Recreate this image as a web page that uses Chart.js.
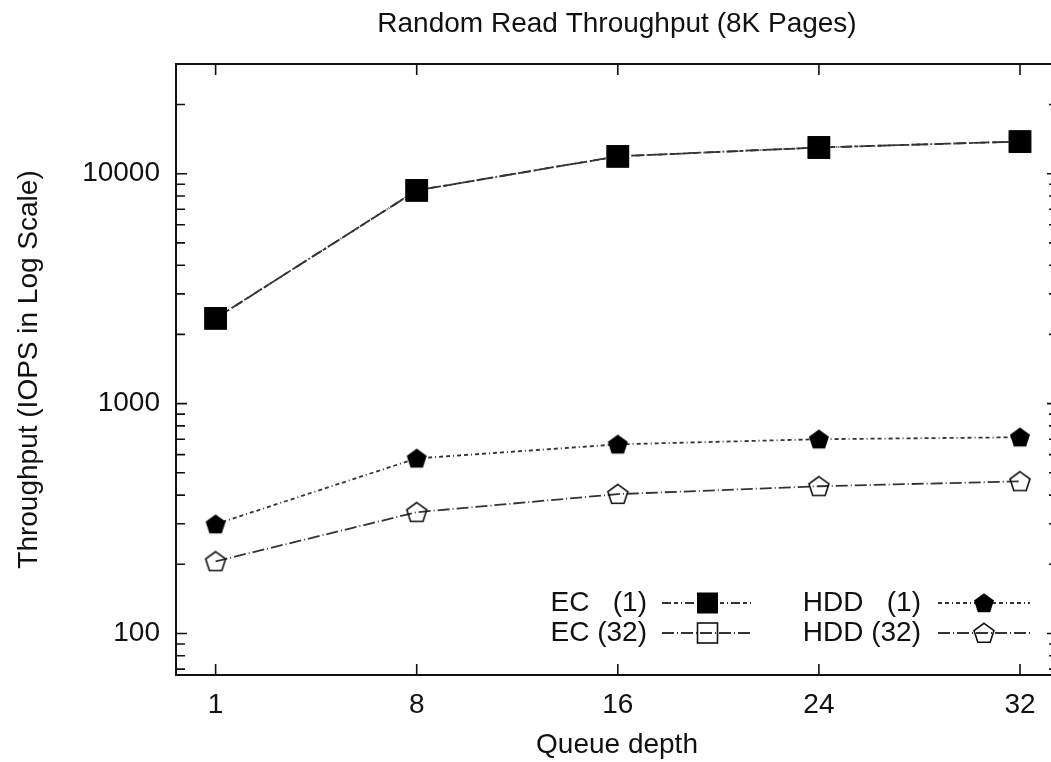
<!DOCTYPE html>
<html>
<head>
<meta charset="utf-8">
<title>Random Read Throughput (8K Pages)</title>
<script src="https://cdn.jsdelivr.net/npm/chart.js@4.4.1/dist/chart.umd.min.js"></script>
<style>
  html, body { margin: 0; padding: 0; background: #fff; overflow: hidden; }
  #wrap { width: 1051px; height: 762px; overflow: hidden; }
  canvas { display: block; }
</style>
</head>
<body>
<div id="wrap"><canvas id="lineChart" width="1070" height="762"></canvas></div>
<script>
// values
var queueDepths = ['1', '8', '16', '24', '32'];
var ecOne = [2350, 8460, 11900, 13000, 13800];
var ecThirtyTwo = [2350, 8460, 11900, 13000, 13800];
var hddOne = [299, 578, 665, 700, 714];
var hddThirtyTwo = [206, 337, 404, 437, 459];
var yTickValues = [100, 1000, 10000];

var FONT = "'Liberation Sans', Arial, sans-serif";
var FSIZE = 28;
var INK = '#111';

// pentagon markers as small canvases
function makePentagon(filled) {
    var c = document.createElement('canvas');
    c.width = 24;
    c.height = 24;
    var g = c.getContext('2d');
    g.beginPath();
    for (var i = 0; i < 5; i++) {
        var a = -Math.PI / 2 + i * 2 * Math.PI / 5;
        var px = 12 + 10.5 * Math.cos(a), py = 12.8 + 10.5 * Math.sin(a);
        if (i === 0) g.moveTo(px, py); else g.lineTo(px, py);
    }
    g.closePath();
    if (filled) {
        g.fillStyle = '#000';
        g.fill();
    } else {
        g.lineWidth = 1.6;
        g.strokeStyle = INK;
        g.stroke();
    }
    return c;
}

function toPoints(arr) {
    return arr.map(function (v, i) { return { x: i, y: v }; });
}

// gnuplot-style frame with inward ticks on all sides
var framePlugin = {
    id: 'frame',
    beforeDatasetsDraw: function (chart) {
        var ctx = chart.ctx, a = chart.chartArea;
        var xs = chart.scales.x, ys = chart.scales.y;
        ctx.save();
        ctx.strokeStyle = INK;
        ctx.lineWidth = 2;
        ctx.strokeRect(a.left, a.top, a.right - a.left, a.bottom - a.top);
        ctx.lineWidth = 1.6;
        ctx.beginPath();
        queueDepths.forEach(function (q, i) {
            var px = xs.getPixelForValue(i);
            ctx.moveTo(px, a.bottom); ctx.lineTo(px, a.bottom - 11);
            ctx.moveTo(px, a.top); ctx.lineTo(px, a.top + 11);
        });
        for (var d = 10; d <= 10000; d *= 10) {
            for (var m = 1; m <= 9; m++) {
                var v = m * d;
                if (v < ys.min || v > ys.max) continue;
                var py = ys.getPixelForValue(v);
                var len = m === 1 ? 11 : 9;
                ctx.moveTo(a.left, py); ctx.lineTo(a.left + len, py);
                ctx.moveTo(a.right, py); ctx.lineTo(a.right - len, py);
            }
        }
        ctx.stroke();
        ctx.restore();
    }
};

// key drawn like gnuplot: right-justified text, then a line sample with the marker
var keyPlugin = {
    id: 'gnuKey',
    afterDatasetsDraw: function (chart) {
        var ctx = chart.ctx;
        var spots = [
            { tx: 647, x0: 662, x1: 753, y: 603 },
            { tx: 647, x0: 662, x1: 753, y: 633 },
            { tx: 921, x0: 938, x1: 1030, y: 603 },
            { tx: 921, x0: 938, x1: 1030, y: 633 }
        ];
        chart.data.datasets.forEach(function (ds, i) {
            var s = spots[i];
            ctx.save();
            ctx.fillStyle = INK;
            ctx.font = FSIZE + 'px ' + FONT;
            ctx.textAlign = 'right';
            ctx.textBaseline = 'middle';
            ctx.fillText(ds.label, s.tx, s.y);
            ctx.strokeStyle = ds.borderColor;
            ctx.lineWidth = ds.borderWidth;
            ctx.setLineDash(ds.borderDash);
            ctx.beginPath();
            ctx.moveTo(s.x0, s.y);
            ctx.lineTo(s.x1, s.y);
            ctx.stroke();
            ctx.setLineDash([]);
            var mx = (s.x0 + s.x1) / 2;
            if (ds.pointStyle === 'rect') {
                var side = 20;
                if (ds.pointBackgroundColor !== 'rgba(0,0,0,0)') {
                    ctx.fillStyle = ds.pointBackgroundColor;
                    ctx.fillRect(mx - side / 2, s.y - side / 2, side, side);
                }
                ctx.strokeStyle = ds.pointBorderColor;
                ctx.lineWidth = ds.pointBorderWidth;
                ctx.strokeRect(mx - side / 2, s.y - side / 2, side, side);
            } else {
                var img = ds.pointStyle;
                ctx.drawImage(img, mx - img.width / 2, s.y - img.height / 2);
            }
            ctx.restore();
        });
    }
};

var lineStyle = { borderColor: '#333', borderWidth: 1.8, tension: 0, fill: false, clip: false };

new Chart(document.getElementById('lineChart'), {
    type: 'line',
    data: {
        datasets: [
            Object.assign({
                label: 'EC   (1)',
                data: toPoints(ecOne),
                borderDash: [9, 3, 4, 3, 1, 3],
                pointStyle: 'rect',
                pointRadius: 15,
                pointBackgroundColor: '#000',
                pointBorderColor: '#000',
                pointBorderWidth: 1
            }, lineStyle),
            Object.assign({
                label: 'EC (32)',
                data: toPoints(ecThirtyTwo),
                borderDash: [12, 3, 1, 3],
                pointStyle: 'rect',
                pointRadius: 15,
                pointBackgroundColor: 'rgba(0,0,0,0)',
                pointBorderColor: INK,
                pointBorderWidth: 1.6
            }, lineStyle),
            Object.assign({
                label: 'HDD   (1)',
                data: toPoints(hddOne),
                borderDash: [4, 3, 4, 3, 1, 3],
                pointStyle: makePentagon(true),
                pointRadius: 11
            }, lineStyle),
            Object.assign({
                label: 'HDD (32)',
                data: toPoints(hddThirtyTwo),
                borderDash: [12, 3, 1, 3],
                pointStyle: makePentagon(false),
                pointRadius: 11
            }, lineStyle)
        ]
    },
    options: {
        responsive: false,
        animation: false,
        layout: { autoPadding: false, padding: { left: 0, right: 12, top: 0, bottom: 0 } },
        plugins: {
            legend: { display: false },
            tooltip: { enabled: false },
            title: {
                display: true,
                text: 'Random Read Throughput (8K Pages)',
                fullSize: false,
                color: INK,
                font: { family: FONT, size: FSIZE, weight: 'normal' },
                padding: { top: 7.2, bottom: 23.2 }
            }
        },
        scales: {
            x: {
                type: 'linear',
                min: -0.197,
                max: 4.189,
                grid: { display: false, drawTicks: false },
                border: { display: false },
                afterBuildTicks: function (scale) {
                    scale.ticks = queueDepths.map(function (q, i) { return { value: i }; });
                },
                afterFit: function (scale) {
                    scale.height = 87;
                    scale.paddingLeft = 0;
                    scale.paddingRight = 0;
                },
                ticks: {
                    padding: 13,
                    color: INK,
                    font: { family: FONT, size: FSIZE },
                    maxRotation: 0,
                    callback: function (v) { return queueDepths[v]; }
                },
                title: {
                    display: true,
                    text: 'Queue depth',
                    color: INK,
                    font: { family: FONT, size: FSIZE },
                    padding: { top: 0, bottom: 0 }
                }
            },
            y: {
                type: 'logarithmic',
                min: 66,
                max: 30000,
                grid: { display: false, drawTicks: false },
                border: { display: false },
                afterBuildTicks: function (scale) {
                    scale.ticks = yTickValues.map(function (v) { return { value: v }; });
                },
                afterFit: function (scale) {
                    scale.width = 176;
                    scale.paddingTop = 0;
                    scale.paddingBottom = 0;
                },
                ticks: {
                    padding: 16,
                    color: INK,
                    font: { family: FONT, size: FSIZE },
                    callback: function (v) { return String(v); }
                },
                title: {
                    display: true,
                    text: 'Throughput (IOPS in Log Scale)',
                    color: INK,
                    font: { family: FONT, size: FSIZE },
                    padding: { top: 12, bottom: 0 }
                }
            }
        }
    },
    plugins: [framePlugin, keyPlugin]
});
</script>
</body>
</html>
